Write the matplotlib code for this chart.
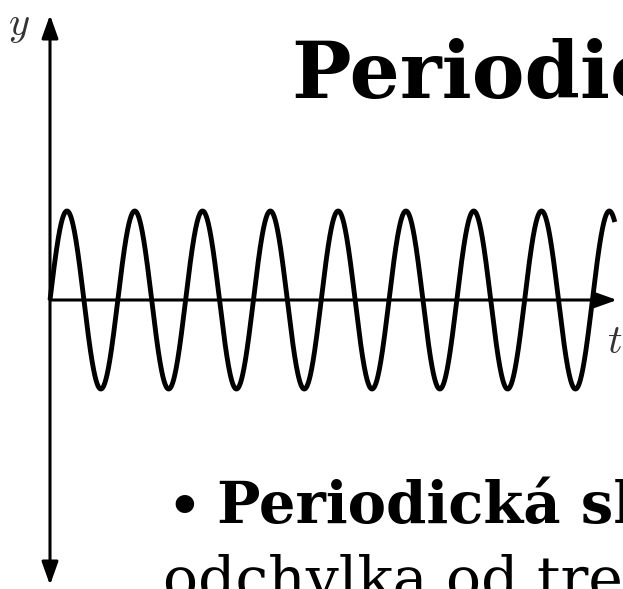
import numpy as np
import matplotlib
matplotlib.use("Agg")
import matplotlib.pyplot as plt

# periodic component: pure sine, time measured in periods
amplitude = 1.0
period = 1.0
n_cycles = 8.33

title = "Periodická složka"
bullet_head = "Periodická složka"
bullet_body = "odchylka od trendu"

W, H = 623, 589
origin = (50, 300)      # where the axes cross, in pixels
px_per_period = 67.8
px_per_unit = 89.0

fig = plt.figure(figsize=(W / 100, H / 100), dpi=100)
ax = fig.add_axes([0, 0, 1, 1])
ax.set_xlim(-origin[0] / px_per_period, (W - origin[0]) / px_per_period)
ax.set_ylim(-(H - origin[1]) / px_per_unit, origin[1] / px_per_unit)
ax.axis("off")

t = np.linspace(0, n_cycles * period, 3000)
y = amplitude * np.sin(2 * np.pi * t / period)
ax.plot(t, y, color="black", lw=3.5, solid_capstyle="butt", zorder=3)

# axes with arrow heads
arrow = dict(lw=2.2, color="black", shrinkA=0, shrinkB=0, mutation_scale=20)
y_top = (origin[1] - 15) / px_per_unit
y_bot = -(585 - origin[1]) / px_per_unit
ax.annotate("", xy=(0, y_top), xytext=(0, y_bot),
            arrowprops=dict(arrowstyle="<|-|>,head_length=0.7,head_width=0.25", **arrow))
x_end = (617 - origin[0]) / px_per_period
ax.annotate("", xy=(x_end, 0), xytext=(0, 0),
            arrowprops=dict(arrowstyle="-|>,head_length=0.7,head_width=0.25", **arrow))

plt.rcParams["mathtext.fontset"] = "cm"
fig.text(8 / W, 1 - 5 / H, "$y$", fontsize=29, color="#333333", ha="left", va="top")
fig.text(607 / W, 1 - 322 / H, "$t$", fontsize=29, color="#333333", ha="left", va="top")

# slide text
fig.text(292 / W, 1 - 98 / H, title, fontsize=57, family="DejaVu Serif",
         weight="bold", ha="left", va="baseline")
fig.text(167 / W, 1 - 523 / H, "•", fontsize=38, family="DejaVu Serif",
         weight="bold", ha="left", va="baseline")
fig.text(217 / W, 1 - 523 / H, bullet_head, fontsize=41.5, family="DejaVu Serif",
         weight="bold", ha="left", va="baseline")
fig.text(163 / W, 1 - 598 / H, bullet_body, fontsize=42, family="DejaVu Serif",
         ha="left", va="baseline")

fig.savefig("out.png", dpi=100)
